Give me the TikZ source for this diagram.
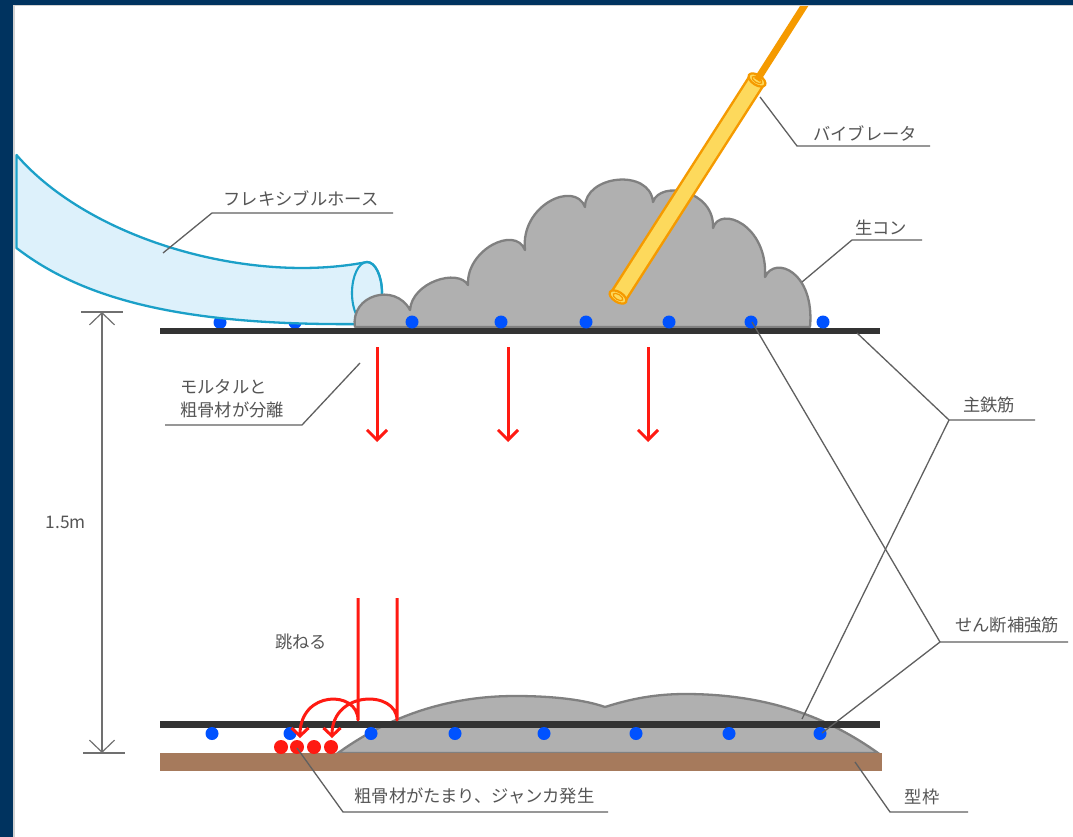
\documentclass[tikz,border=0pt]{standalone}
\usepackage{fontspec}
\setmainfont{Noto Sans CJK JP}
\usetikzlibrary{arrows.meta}

\definecolor{navy}{HTML}{00335F}
\definecolor{edgegray}{HTML}{D2D2D2}
\definecolor{hosefill}{HTML}{DDF1FB}
\definecolor{hoseline}{HTML}{1BA0C8}
\definecolor{concrete}{HTML}{B0B0B0}
\definecolor{concreteline}{HTML}{808080}
\definecolor{rebar}{HTML}{333333}
\definecolor{dotblue}{HTML}{0052FF}
\definecolor{splash}{HTML}{FF1A12}
\definecolor{form}{HTML}{A67A5C}
\definecolor{vibline}{HTML}{F59A00}
\definecolor{vibfill}{HTML}{FDD95C}
\definecolor{labelgray}{HTML}{555555}
\definecolor{leadgray}{HTML}{606060}
\definecolor{dimgray}{HTML}{707070}

\tikzset{
  lbl/.style={text=labelgray, font=\fontsize{17.3}{23}\selectfont, inner sep=0pt},
  leader/.style={draw=leadgray, line width=1.3},
  bar/.style={fill=rebar},
  rebardot/.style={fill=dotblue},
  aggregate/.style={fill=splash},
  fall/.style={draw=splash, line width=3, line join=round,
    -{Straight Barb[length=10pt,width=20pt,line width=3pt]}},
  bounce/.style={draw=splash, line width=3, line join=round,
    -{Straight Barb[length=8pt,width=17pt,line width=3pt]}},
  dimline/.style={draw=dimgray, line width=1.2,
    {Straight Barb[length=12pt,width=25pt,line width=1.2pt]}-{Straight Barb[length=12pt,width=25pt,line width=1.2pt]}},
}

\begin{document}
\begin{tikzpicture}[x=1pt,y=-1pt]
\useasboundingbox (0,0) rectangle (1073,837);
\fill[white] (0,0) rectangle (1073,837);

% --- top layer: rebar dots partly hidden by the hose
\foreach \px in {220,295}
  \fill[rebardot] (\px,322.5) circle[radius=6.5];

% --- flexible hose
\filldraw[fill=hosefill, draw=hoseline, line width=2.3, line join=round]
  (16.5,155) .. controls (90,240) and (250,285) .. (367,262)
  arc[start angle=-90, end angle=90, x radius=15, y radius=31]
  .. controls (200,326) and (90,305) .. (16.5,248) -- cycle;
\draw[hoseline, line width=2.1] (367,293) ellipse[x radius=15, y radius=31];

% --- fresh concrete heap
\filldraw[fill=concrete, draw=concreteline, line width=2.3, line join=round]
  (355,327) .. controls (350,295) and (395,282) .. (410,310)
  .. controls (412,282) and (458,268) .. (468,285)
  .. controls (466,250) and (515,225) .. (525,250)
  .. controls (520,205) and (575,180) .. (585,207)
  .. controls (585,175) and (650,168) .. (653,202)
  .. controls (660,180) and (715,190) .. (713,228)
  .. controls (720,205) and (768,225) .. (765,277)
  .. controls (775,255) and (815,272) .. (810,327) -- cycle;

% --- top main bar and rebar dots
\fill[bar] (160,327.5) rectangle (880,334);
\foreach \px in {412,501,586,669,751,823}
  \fill[rebardot] (\px,322) circle[radius=6.5];

% --- vibrator
\coordinate (vibB) at (618,297);
\coordinate (vibT) at (757,80);
\coordinate (cableEnd) at (808,0);
\draw[vibline, line width=19] (vibB) -- (vibT);
\draw[vibfill, line width=14] (vibB) -- (vibT);
\begin{scope}[x={(0.842pt,-0.539pt)}, y={(0.539pt,0.842pt)}]
  \filldraw[fill=vibfill, draw=vibline, line width=2.2] (vibB) ellipse[x radius=9.5, y radius=5];
  \draw[vibline, line width=1.2] (vibB) ellipse[x radius=5.5, y radius=2.6];
  \filldraw[fill=vibfill, draw=vibline, line width=2.2] (vibT) ellipse[x radius=9.5, y radius=5];
  \draw[vibline, line width=1.2] (vibT) ellipse[x radius=5.5, y radius=2.6];
\end{scope}
\draw[vibline, line width=7] (vibT) -- (cableEnd);

% --- falling concrete
\draw[fall] (377,347) -- (377,442);
\draw[fall] (508,347) -- (508,442);
\draw[fall] (648,347) -- (648,442);

% --- bottom heap, formwork, bar
\filldraw[fill=concrete, draw=concreteline, line width=2.3]
  (338,753) .. controls (395,712) and (455,696) .. (515,696)
  .. controls (555,696) and (585,700) .. (605,707)
  .. controls (630,699) and (655,694) .. (685,694)
  .. controls (750,694) and (815,708) .. (878,753) -- cycle;
\fill[form] (160,753) rectangle (882,771);
\fill[bar] (160,720.5) rectangle (880,727.5);
\foreach \px in {212,290,371,455,544,636,729,820}
  \fill[rebardot] (\px,733.5) circle[radius=6.5];

% --- bouncing concrete
\draw[bounce] (358,598) -- (358,720) .. controls (358,690) and (300,690) .. (300,738);
\draw[bounce] (397,598) -- (397,720) .. controls (397,690) and (332,690) .. (332,738);
\foreach \px in {281,297,314,331}
  \fill[aggregate] (\px,747) circle[radius=7];

% --- dimension
\coordinate (dimT) at (102,312);
\coordinate (dimB) at (102,753);
\draw[dimgray, line width=1.2] (81,312) -- (123,312);
\draw[dimgray, line width=1.2] (83,753) -- (125,753);
\draw[dimline] (dimT) -- (dimB);
\node[lbl] (height) at (66,522) {1.5m};

% --- labels
\node[lbl] (hoseL) at (301,198) {フレキシブルホース};
\node[lbl] (vibL) at (865,133) {バイブレータ};
\node[lbl] (freshL) at (881,228) {生コン};
\node[lbl, align=left, anchor=west] (sepL) at (180,398.5) {モルタルと\\粗骨材が分離};
\node[lbl] (mainL) at (989,405) {主鉄筋};
\node[lbl] (shearL) at (1007,625) {せん断補強筋};
\node[lbl] (bounceL) at (301,642) {跳ねる};
\node[lbl] (formL) at (922,797) {型枠};
\node[lbl] (honeyL) at (474.5,796) {粗骨材がたまり、ジャンカ発生};

% --- leader lines
\coordinate (hoseP) at (163,253);
\coordinate (vibP) at (760,97);
\coordinate (freshP) at (802,282);
\coordinate (sepP) at (360,363);
\coordinate (mainTop) at (857,333);
\coordinate (mainBot) at (802,719);
\coordinate (mainJ) at (949,420);
\coordinate (shearTop) at (752,322);
\coordinate (shearBot) at (822,733);
\coordinate (shearJ) at (940,642);
\coordinate (formP) at (855,762);
\coordinate (honeyP) at (297,748);

\draw[leader] (hoseP) -- (212,213) -- (393,213);
\draw[leader] (vibP) -- (797,146) -- (930,146);
\draw[leader] (freshP) -- (852,240) -- (922,240);
\draw[leader] (sepP) -- (302,425) -- (165,425);
\draw[leader] (mainTop) -- (mainJ) -- (1035,420);
\draw[leader] (mainBot) -- (mainJ);
\draw[leader] (shearTop) -- (shearJ) -- (1068,642);
\draw[leader] (shearBot) -- (shearJ);
\draw[leader] (formP) -- (890,812) -- (968,812);
\draw[leader] (honeyP) -- (343,812) -- (608,812);

% --- frame
\fill[navy] (0,0) rectangle (1073,5);
\fill[navy] (0,0) rectangle (13,837);
\fill[edgegray] (13,5) rectangle (1073,6.5);
\fill[edgegray] (13,5) rectangle (15.2,837);
\end{tikzpicture}
\end{document}
